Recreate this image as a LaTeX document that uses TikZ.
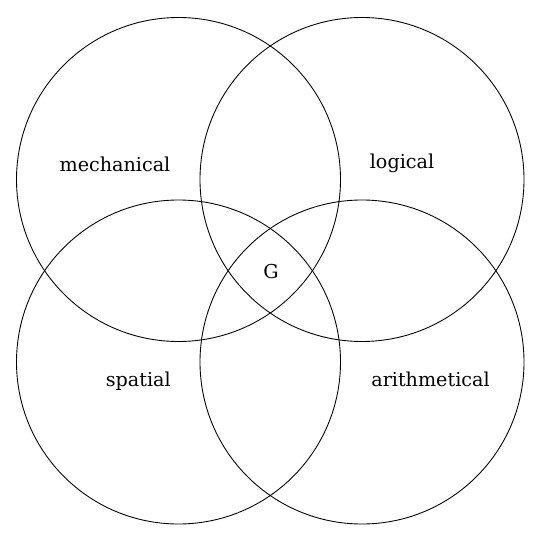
\documentclass[tikz,border=0pt]{standalone}
\usepackage{fontspec}
\setmainfont{DejaVu Serif}
\usepackage{tikz}

\begin{document}
\begin{tikzpicture}[scale=0.2]
\tikzstyle{every node}+=[inner sep=0pt, anchor=base, font=\fontsize{10.9}{13}\selectfont]
\useasboundingbox (0,0) rectangle (54,-54.2);
\draw [black, line width=0.5pt] (17.85,-17.95) circle (16.2);
\draw (11.5,-17.2) node (mech) {mechanical};
\draw [black, line width=0.5pt] (36.2,-17.95) circle (16.2);
\draw (40.2,-16.86) node (logi) {logical};
\draw [black, line width=0.5pt] (17.85,-36.2) circle (16.2);
\draw (13.83,-38.66) node (spat) {spatial};
\draw [black, line width=0.5pt] (36.2,-36.2) circle (16.2);
\draw (43.05,-38.66) node (arit) {arithmetical};
\draw (27.1,-27.8) node (g) {G};
\end{tikzpicture}
\end{document}
